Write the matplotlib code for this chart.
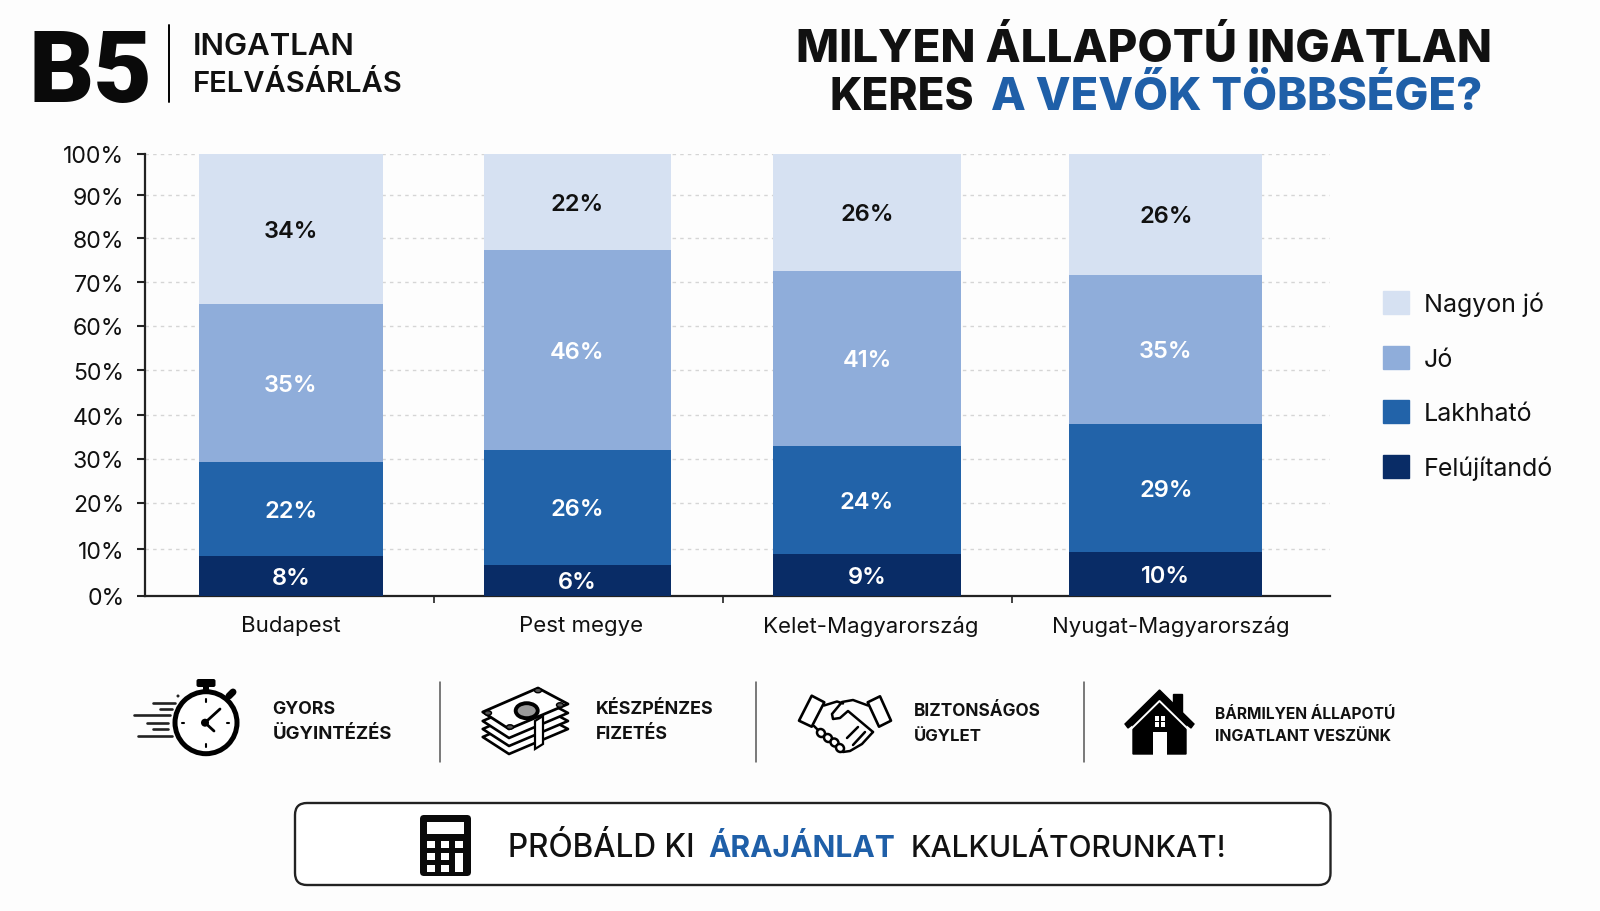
import matplotlib
matplotlib.use("Agg")
import matplotlib.pyplot as plt
from matplotlib.patches import Ellipse, FancyBboxPatch, Patch, Polygon, Rectangle

plt.rcParams['font.family'] = ['Inter', 'DejaVu Sans']

categories = ["Budapest", "Pest megye", "Kelet-Magyarország", "Nyugat-Magyarország"]
series_names = ["Felújítandó", "Lakhható", "Jó", "Nagyon jó"]

# printed labels
felujitando = [8, 6, 9, 10]
lakhato = [22, 26, 24, 29]
jo = [35, 46, 41, 35]
nagyon_jo = [34, 22, 26, 26]

# the drawn heights differ a bit from the printed numbers
felujitando_h = [9.0, 6.9, 9.4, 9.9]
lakhato_h = [21.2, 26.1, 24.5, 29.0]
jo_h = [35.7, 45.1, 39.6, 33.7]
nagyon_jo_h = [34.1, 21.9, 26.5, 27.4]

y_labels = [100, 90, 80, 70, 60, 50, 40, 30, 20, 10, 0]
# the reference's ticks are not evenly spaced, these are where they sit
y_tick_pos = [100, 90.6, 80.8, 70.9, 61.0, 51.0, 40.8, 30.9, 21.0, 10.5, 0]

colors = ["#092c66", "#2263a9", "#8fadda", "#d6e1f2"]
label_colors = ["white", "white", "white", "#111111"]
BLUE = "#1f5fa8"
INK = "#111111"

bar_x = [0.005, 0.996, 1.998, 3.032]
bar_w = [0.636, 0.647, 0.650, 0.668]
label_x = [0.006, 1.009, 2.012, 3.048]

fig = plt.figure(figsize=(16, 9.12), dpi=100, facecolor="#fdfdfd")
renderer = fig.canvas.get_renderer()

# chart area in px: 145..1330 across, 154.5..596.5 down
ax = fig.add_axes([145 / 1600, 1 - 596.5 / 912, (1330 - 145) / 1600, 442 / 912])
ax.set_facecolor("none")

heights = [felujitando_h, lakhato_h, jo_h, nagyon_jo_h]
printed = [felujitando, lakhato, jo, nagyon_jo]
bottom = [0, 0, 0, 0]
for i in range(4):
    ax.bar(bar_x, heights[i], width=bar_w, bottom=bottom, color=colors[i], zorder=3)
    for j in range(4):
        ax.annotate("%d%%" % printed[i][j], (bar_x[j], bottom[j] + heights[i][j] / 2), xytext=(0, -1.5),
                    textcoords="offset points", ha="center", va="center", fontsize=17,
                    fontweight="semibold", color=label_colors[i], zorder=4)
        bottom[j] += heights[i][j]

ax.set_xlim(-0.5, 3.6)
ax.set_ylim(0, 100)
ax.set_yticks(y_tick_pos)
ax.set_yticklabels(["%d%%" % v for v in y_labels], fontsize=16.6, color=INK)
ax.set_xticks([0.5, 1.5, 2.5])
ax.set_xticklabels([])
ax.set_xticks(label_x, minor=True)
ax.set_xticklabels(categories, minor=True, fontsize=16, color=INK)
ax.tick_params(axis="x", which="major", length=5, width=1.2, color="#222222")
ax.tick_params(axis="x", which="minor", length=0, pad=14)
ax.tick_params(axis="y", length=6, width=1.5, color="#222222", pad=8.8)
ax.grid(axis="y", color="#d5d5d5", linestyle=(0, (2.5, 3)), linewidth=1, zorder=0)
ax.set_axisbelow(True)
for side in ["top", "right"]:
    ax.spines[side].set_visible(False)
for side in ["left", "bottom"]:
    ax.spines[side].set_linewidth(1.6)
    ax.spines[side].set_color("#222222")

handles = [Patch(color=colors[i], label=series_names[i]) for i in [3, 2, 1, 0]]
fig.legend(handles=handles, loc="upper left", bbox_to_anchor=(1383 / 1600, 1 - 292 / 912),
           frameon=False, fontsize=18, handlelength=1.04, handleheight=1.04, labelspacing=1.18,
           handletextpad=0.6, borderpad=0, borderaxespad=0, labelcolor=INK)

# everything around the chart is placed in pixels
ov = fig.add_axes([0, 0, 1, 1], facecolor="none")
ov.set_xlim(0, 1600)
ov.set_ylim(912, 0)
ov.set_axis_off()


def put(x, y, s, width, color=INK, weight="bold"):
    # fontsize is scaled so the string covers the measured pixel width
    t = ov.text(x, y, s, fontsize=20, color=color, fontweight=weight, ha="left", va="baseline")
    w = t.get_window_extent(renderer).width
    t.set_fontsize(20 * width / w)
    return t


def line(xs, ys, lw=1.5, color="black", z=5):
    ov.plot(xs, ys, color=color, lw=lw, solid_capstyle="round", solid_joinstyle="round", zorder=z)


# logo
ov.text(28.5, 102, "B5", fontsize=73, fontweight="black", family="Roboto", color="#0a0a0a", ha="left", va="baseline")
line([169, 169], [26, 103], lw=1.4)
put(193, 55, "INGATLAN", 162, weight="semibold")
put(193, 92, "FELVÁSÁRLÁS", 210, weight="semibold")

# title
put(796, 61.5, "MILYEN ÁLLAPOTÚ INGATLAN", 697, weight="heavy")
put(830, 110, "KERES", 145, weight="heavy")
put(991, 110, "A VEVŐK TÖBBSÉGE?", 492, color=BLUE, weight="heavy")

# feature row
for sx in [440, 756, 1084]:
    line([sx, sx], [683, 763], lw=1.1, color="#555555")

put(272.5, 714, "GYORS", 63)
put(272.5, 739, "ÜGYINTÉZÉS", 119)
put(596, 714, "KÉSZPÉNZES", 118)
put(596, 739, "FIZETÉS", 72)
put(914, 716, "BIZTONSÁGOS", 127)
put(914, 741, "ÜGYLET", 68)
put(1215, 719, "BÁRMILYEN ÁLLAPOTÚ", 181)
put(1215, 741, "INGATLANT VESZÜNK", 177)

# stopwatch
for y0, x0, x1 in [(703.7, 153, 175), (710, 160, 172), (716, 134, 170), (723.7, 147, 168), (730, 153, 168), (737, 138, 172)]:
    line([x0, x1], [y0, y0], lw=1.9, color="#222222")
ov.add_patch(Ellipse((178, 697), 3, 3, fc="#222222", ec="none", zorder=5))
ov.add_patch(Ellipse((206, 723.7), 62, 62, fc="white", ec="black", lw=3.6, zorder=6))
ov.add_patch(FancyBboxPatch((198.5, 682), 15, 4, boxstyle="round,pad=2", fc="black", ec="none", zorder=6))
ov.add_patch(Rectangle((203, 686), 6, 7, fc="black", ec="none", zorder=6))
line([229, 233], [697, 693], lw=5, z=5)
line([220, 205, 214], [710, 723.7, 732], lw=2, z=7)
ov.add_patch(Ellipse((205, 723.7), 8, 8, fc="black", ec="none", zorder=7))
for tx0, ty0, tx1, ty1 in [(206, 700, 206, 703), (206, 745, 206, 748), (182, 723.7, 184, 723.7), (227, 723.7, 229, 723.7)]:
    line([tx0, tx1], [ty0, ty1], lw=1.5, z=7)

# stack of notes
note = [(538, 689), (568, 705), (509, 730), (482.7, 713)]
for off in [25, 17, 9]:
    ov.add_patch(Polygon([(px, py + off) for px, py in note], closed=True, fc="white", ec="black", lw=1.9,
                         zorder=5, joinstyle="round"))
ov.add_patch(Polygon(note, closed=True, fc="white", ec="black", lw=2, zorder=6, joinstyle="round"))
ov.add_patch(Ellipse((526.7, 711.7), 22, 15, fc="#9a9a9a", ec="black", lw=2.8, zorder=7))
for cx, cy in [(538, 691.5), (560, 706), (510, 728), (488, 714)]:
    ov.add_patch(Ellipse((cx, cy), 7, 4.5, fc="#555555", ec="black", lw=1, zorder=7))
ov.add_patch(Polygon([(535, 722), (543, 717), (543, 745), (535, 750)], closed=True, fc="white", ec="black",
                     lw=1.6, zorder=7))

# handshake
ov.add_patch(Polygon([(811.7, 696.7), (824.3, 703.3), (811.7, 727.7), (799, 721.7)], closed=True, fc="white",
                     ec="black", lw=1.9, zorder=6, joinstyle="round"))
ov.add_patch(Polygon([(880, 697.3), (867.7, 703.3), (879, 727.7), (891, 721.7)], closed=True, fc="white",
                     ec="black", lw=1.9, zorder=6, joinstyle="round"))
line([824, 837, 843], [706.5, 702.5, 704.5], lw=1.8)
line([868, 853, 842, 832, 833, 840, 848, 873], [706.5, 701, 703, 715, 720, 719, 712, 733], lw=1.8)
line([814, 820], [727, 733], lw=1.8)
line([873, 862, 850, 843, 839], [733, 745, 752, 753, 751], lw=1.8)
for fx, fy in [(821, 734), (828, 739), (834.5, 743.5), (840, 749)]:
    ov.add_patch(Ellipse((fx, fy), 8.5, 7.5, angle=45, fc="white", ec="black", lw=1.8, zorder=7))
line([858, 847], [728, 739], lw=1.8)
line([865, 853], [733, 746], lw=1.8)

# house
ov.add_patch(Rectangle((1173, 695), 9, 18, fc="black", ec="black", zorder=5))
ov.add_patch(Polygon([(1159.5, 691), (1194, 725), (1191, 729), (1186, 725), (1186, 755), (1133, 755), (1133, 725),
                      (1128, 729), (1125, 725)], closed=True, fc="black", ec="black", lw=1, zorder=5))
line([1130, 1159.5, 1189], [731, 702, 731], lw=1.4, color="white", z=6)
ov.add_patch(Rectangle((1153, 733), 14, 22.5, fc="white", ec="none", zorder=6))
for wx, wy in [(1155, 717), (1161, 717), (1155, 723), (1161, 723)]:
    ov.add_patch(Rectangle((wx, wy), 4, 4.5, fc="white", ec="none", zorder=6))

# calculator banner
ov.add_patch(FancyBboxPatch((307, 816), 1011.5, 58, boxstyle="round,pad=12,rounding_size=12", fc="white",
                            ec="#222222", lw=1.7, zorder=2))
ov.add_patch(FancyBboxPatch((423, 819), 45, 55, boxstyle="round,pad=3,rounding_size=4", fc="#0a0a0a", ec="none", zorder=5))
ov.add_patch(Rectangle((427, 823), 37, 12, fc="white", ec="none", zorder=6))
for gx in [427, 441, 455]:
    for gy in [842, 854, 866]:
        if gx == 455 and gy > 842:
            continue
        ov.add_patch(Rectangle((gx, gy), 8, 7, fc="white", ec="none", zorder=6))
ov.add_patch(Rectangle((455, 854), 8, 19, fc="white", ec="none", zorder=6))

put(508, 857, "PRÓBÁLD KI", 187, weight="medium")
put(708, 857, "ÁRAJÁNLAT", 187, color=BLUE, weight="bold")
put(911, 857, "KALKULÁTORUNKAT!", 317, weight="medium")

fig.savefig("out.png", dpi=100, facecolor=fig.get_facecolor())
